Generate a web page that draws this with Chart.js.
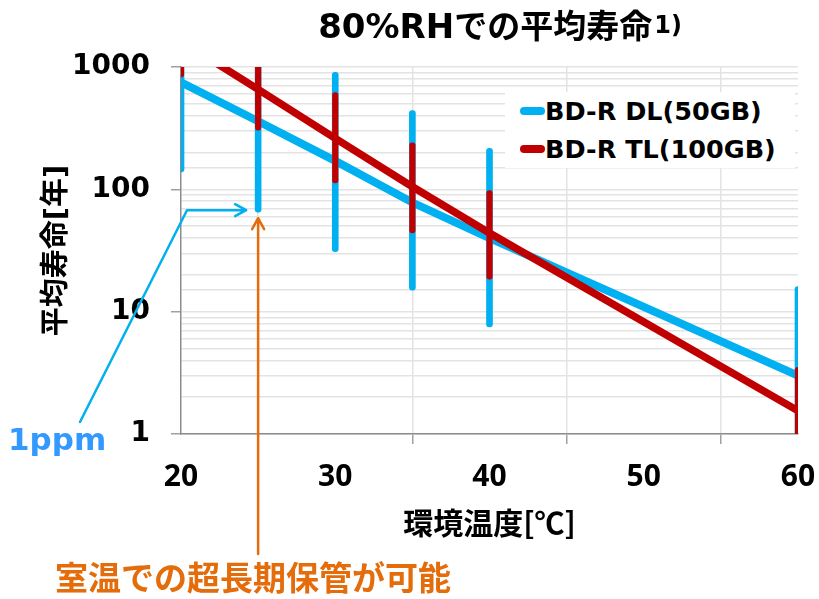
<!DOCTYPE html>
<html>
<head>
<meta charset="utf-8">
<script src="https://cdn.jsdelivr.net/npm/chart.js@4"></script>
<style>
  body { margin: 0; background: #fff; }
  #wrap { position: relative; width: 819px; height: 599px; }
  #title { position: absolute; top: 0px; left: 500px; transform: translateX(-50%); white-space: nowrap;
           font-weight: bold; line-height: 36px; height: 36px; color: #000; }
  #title .lat { font: bold 34px "DejaVu Sans", "Noto Sans CJK JP"; }
  #title .jp { font: bold 33px "Noto Sans CJK JP", sans-serif; }
  #title .sup { font: bold 24px "DejaVu Sans"; position: relative; top: -5px; margin-left: 2px; }
  #legend { position: absolute; left: 505px; top: 92px; width: 290px; background: #fff; }
  .row { height: 38px; display: flex; align-items: center; }
  .mark { width: 25px; height: 8px; border-radius: 4px; margin-left: 15px; }
  .lbl { font: bold 25.5px "DejaVu Sans", sans-serif; line-height: 26px; color: #000; }
  #ppm { position: absolute; left: 8px; top: 424px; font: bold 31px "DejaVu Sans", sans-serif; line-height: 31px; color: #3399ff; }
  #note { position: absolute; left: 55px; top: 560px; font: bold 33px "Noto Sans CJK JP", sans-serif; line-height: 33px; color: #e46c0a; white-space: nowrap; }
</style>
</head>
<body>
<div id="wrap">
  <canvas id="lifeChart" width="819" height="599"></canvas>
  <div id="title"><span class="lat">80%RH</span><span class="jp">での平均寿命</span><span class="sup">1)</span></div>
  <div id="legend"></div>
  <div id="ppm">1ppm</div>
  <div id="note">室温での超長期保管が可能</div>
</div>
<script>
// 温度 [℃]
const temps = [20, 25, 30, 35, 40, 60];

// BD-R DL(50GB) 平均寿命と誤差範囲 [年]
const dlLife = [750, 360, 171, 78, 40, 3.0];
const dlLow  = [139, 65, 31, 15, 7.5, 0.56];
const dlHigh = [4000, 2000, 906, 440, 216, 16];

// BD-R TL(100GB)
const tlLife = [1630, 657, 261, 105, 44, 1.55];
const tlLow  = [828, 305, 113, 44, 18.4, 0.69];
const tlHigh = [3200, 1415, 617, 240, 97.5, 3.5];

const seriesNames = ['BD-R DL(50GB)', 'BD-R TL(100GB)'];
const seriesColors = ['#00b0f0', '#c00000'];

const yTicks = [1, 10, 100, 1000];
const xTicks = [20, 30, 40, 50, 60];

function pts(vals) { return temps.map((t, i) => ({ x: t, y: vals[i] })); }
function bars(lo, hi) { return temps.map((t, i) => ({ x: t, y: [lo[i], hi[i]] })); }

// 矢印（注記）
const calloutPlugin = {
  id: 'callout',
  afterDraw(chart) {
    const ctx = chart.ctx;
    const xs = chart.scales.x, ys = chart.scales.y;
    const bx = xs.getPixelForValue(temps[1]);
    const by = ys.getPixelForValue(dlLow[1]);
    ctx.save();
    ctx.lineWidth = 2.5;
    ctx.lineCap = 'round';
    ctx.lineJoin = 'round';
    // 1ppm の引出線
    ctx.strokeStyle = '#00b0f0';
    const tipX = bx - 12, tipY = by - 2;
    ctx.beginPath();
    ctx.moveTo(80, 422);
    ctx.lineTo(xs.getPixelForValue(20) + 6, tipY);
    ctx.lineTo(tipX, tipY);
    ctx.moveTo(tipX - 11, tipY - 6);
    ctx.lineTo(tipX, tipY);
    ctx.lineTo(tipX - 11, tipY + 6);
    ctx.stroke();
    // 室温の矢印
    ctx.strokeStyle = '#e46c0a';
    const oy = by + 6;
    ctx.beginPath();
    ctx.moveTo(bx, 554);
    ctx.lineTo(bx, oy);
    ctx.moveTo(bx - 6, oy + 11);
    ctx.lineTo(bx, oy);
    ctx.lineTo(bx + 6, oy + 11);
    ctx.stroke();
    ctx.restore();
  }
};

const isDecade = v => yTicks.includes(v);

const chart = new Chart(document.getElementById('lifeChart').getContext('2d'), {
  type: 'line',
  data: {
    datasets: [
      { type: 'bar', label: seriesNames[0], data: bars(dlLow, dlHigh), backgroundColor: seriesColors[0],
        barThickness: 6, borderRadius: 3, borderSkipped: false, grouped: false, clip: 0, order: 4 },
      { label: seriesNames[0], data: pts(dlLife), borderColor: seriesColors[0], borderWidth: 8,
        pointRadius: 0, tension: 0, clip: 0, order: 3 },
      { type: 'bar', label: seriesNames[1], data: bars(tlLow, tlHigh), backgroundColor: seriesColors[1],
        barThickness: 5.5, borderRadius: 3, borderSkipped: false, grouped: false, clip: 0, order: 2 },
      { label: seriesNames[1], data: pts(tlLife), borderColor: seriesColors[1], borderWidth: 7.5,
        pointRadius: 0, tension: 0, clip: 0, order: 1 }
    ]
  },
  options: {
    responsive: false,
    animation: false,
    events: [],
    layout: { padding: { top: 67, right: 21, left: 0, bottom: 0 } },
    plugins: { legend: { display: false }, tooltip: { enabled: false } },
    scales: {
      x: {
        type: 'linear', min: 20, max: 60, offset: false,
        afterBuildTicks: s => { s.ticks = xTicks.map(v => ({ value: v })); },
        afterFit: s => { s.height = 165; s.paddingLeft = 0; s.paddingRight = 0; },
        grid: { color: '#e3e3e3', lineWidth: 1.5, tickLength: 10, tickColor: '#a0a0a0' },
        border: { color: '#8c8c8c', width: 1.5 },
        ticks: { color: '#000', padding: 15, font: { family: '"Open Sans"', weight: 'bold', size: 30 } },
        title: { display: true, text: '環境温度[℃]', color: '#000',
                 font: { family: '"Noto Sans CJK JP"', weight: 'bold', size: 30 }, padding: { top: 0, bottom: 58 } }
      },
      y: {
        type: 'logarithmic', min: 1, max: 1000,
        afterFit: s => { s.width = 181; s.paddingTop = 0; s.paddingBottom = 0; },
        grid: { color: '#e3e3e3', lineWidth: 1.5, tickLength: 10,
                tickColor: c => (c.tick && isDecade(c.tick.value)) ? '#a0a0a0' : 'rgba(0,0,0,0)' },
        border: { color: '#8c8c8c', width: 1.5 },
        ticks: { color: '#000', padding: 21, autoSkip: false,
                 font: { family: '"DejaVu Sans"', weight: 'bold', size: 28 },
                 callback: v => isDecade(v) ? String(v) : '' },
        title: { display: true, text: '平均寿命[年]', color: '#000',
                 font: { family: '"DejaVu Sans", "Noto Sans CJK JP"', weight: 'bold', size: 29 }, padding: { top: 40, bottom: 0 } }
      }
    }
  },
  plugins: [calloutPlugin]
});

// 凡例
const legend = document.getElementById('legend');
seriesNames.forEach((name, i) => {
  const row = document.createElement('div');
  row.className = 'row';
  row.innerHTML = '<div class="mark" style="background:' + seriesColors[i] + '"></div><div class="lbl">' + name + '</div>';
  legend.appendChild(row);
});
</script>
</body>
</html>
